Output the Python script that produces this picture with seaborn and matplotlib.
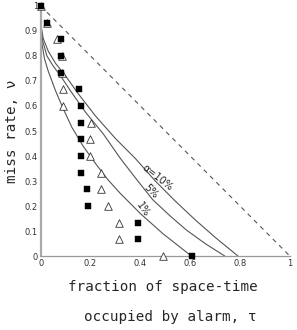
import matplotlib
matplotlib.use("Agg")
import matplotlib.pyplot as plt
import seaborn as sns
import pandas as pd

# ---- data ----
miss_rate = [1.0, 0.933, 0.867, 0.8, 0.733, 0.667, 0.6, 0.533, 0.467, 0.4,
             0.333, 0.267, 0.2, 0.133, 0.067, 0.0]
square_tau = [0.0, 0.027, 0.08, 0.08, 0.08, 0.152, 0.16, 0.16, 0.163, 0.163,
              0.163, 0.187, 0.19, 0.39, 0.39, 0.608]
triangle_tau = [0.0, 0.027, 0.067, 0.085, 0.085, 0.088, 0.09, 0.2, 0.198, 0.198,
                0.243, 0.243, 0.272, 0.314, 0.314, 0.49]

curve10_tau = [0.0, 0.01, 0.03, 0.06, 0.10, 0.15, 0.22, 0.30, 0.38, 0.46, 0.54, 0.62, 0.70, 0.792]
curve10_nu = [0.93, 0.87, 0.82, 0.77, 0.72, 0.65, 0.56, 0.47, 0.39, 0.30, 0.22, 0.145, 0.075, 0.0]
curve5_tau = [0.0, 0.008, 0.025, 0.05, 0.08, 0.12, 0.18, 0.25, 0.32, 0.39, 0.45, 0.52, 0.585, 0.66, 0.739]
curve5_nu = [0.93, 0.86, 0.80, 0.76, 0.72, 0.66, 0.575, 0.49, 0.39, 0.30, 0.225, 0.16, 0.104, 0.05, 0.0]
curve1_tau = [0.0, 0.005, 0.015, 0.03, 0.06, 0.09, 0.125, 0.17, 0.22, 0.27, 0.32, 0.40, 0.49, 0.605]
curve1_nu = [0.93, 0.85, 0.79, 0.74, 0.66, 0.59, 0.515, 0.44, 0.37, 0.305, 0.25, 0.17, 0.09, 0.0]

random_tau = [0.0, 1.0]
random_nu = [1.0, 0.0]

curve_labels = ["α=10%", "5%", "1%"]
x_ticks = [0, 0.2, 0.4, 0.6, 0.8, 1]
x_ticklabels = ["0", "0.2", "0.4", "0.6", "0.8", "1"]
y_ticks = [0, 0.1, 0.2, 0.3, 0.4, 0.5, 0.6, 0.7, 0.8, 0.9, 1]
y_ticklabels = ["0", "0.1", "0.2", "0.3", "0.4", "0.5", "0.6", "0.7", "0.8", "0.9", "1"]

sns.set_style("white")
plt.rcParams["font.family"] = ["DejaVu Sans"]

fig = plt.figure(figsize=(2.97, 3.30), dpi=100)
ax = fig.add_axes([0.137, 0.224, 0.839, 0.758])

df_rand = pd.DataFrame({"tau": random_tau, "nu": random_nu})
sns.lineplot(data=df_rand, x="tau", y="nu", ax=ax, color="#555555", lw=0.8,
             linestyle=(0, (4, 4)), sort=False)

for tx, ny in [(curve10_tau, curve10_nu), (curve5_tau, curve5_nu), (curve1_tau, curve1_nu)]:
    d = pd.DataFrame({"tau": tx, "nu": ny})
    sns.lineplot(data=d, x="tau", y="nu", ax=ax, color="#555555", lw=0.8, sort=False)

df_tri = pd.DataFrame({"tau": triangle_tau, "nu": miss_rate})
sns.scatterplot(data=df_tri, x="tau", y="nu", ax=ax, marker="^", s=30,
                facecolor="white", edgecolor="#333333", linewidth=0.6, clip_on=False, zorder=5)
df_sq = pd.DataFrame({"tau": square_tau, "nu": miss_rate})
sns.scatterplot(data=df_sq, x="tau", y="nu", ax=ax, marker="s", s=20,
                color="black", edgecolor="black", linewidth=0.3, clip_on=False, zorder=6)

ax.text(0.468, 0.312, curve_labels[0], rotation=-38, fontsize=7, ha="center", va="center", color="#222222")
ax.text(0.442, 0.257, curve_labels[1], rotation=-45, fontsize=7, ha="center", va="center", color="#222222")
ax.text(0.41, 0.188, curve_labels[2], rotation=-55, fontsize=7, ha="center", va="center", color="#222222")

ax.set_xlim(0, 1)
ax.set_ylim(0, 1)
ax.set_xticks(x_ticks)
ax.set_xticklabels(x_ticklabels, fontsize=6, color="#333333")
ax.set_yticks(y_ticks)
ax.set_yticklabels(y_ticklabels, fontsize=6, color="#333333")
ax.tick_params(direction="in", length=2.5, width=0.6, color="#888888", pad=2)
for s in ["top", "right"]:
    ax.spines[s].set_visible(False)
ax.spines["left"].set_color("#aaaaaa")
ax.spines["left"].set_linewidth(1.6)
ax.spines["bottom"].set_color("#999999")
ax.spines["bottom"].set_linewidth(0.9)

ax.set_xlabel("")
ax.set_ylabel("miss rate, ν", family="DejaVu Sans Mono", fontsize=10.3, labelpad=4)
fig.text(0.549, 1 - 287 / 330, "fraction of space-time", family="DejaVu Sans Mono",
         fontsize=10.3, ha="center", va="center")
fig.text(0.572, 1 - 317 / 330, "occupied by alarm, τ", family="DejaVu Sans Mono",
         fontsize=10.3, ha="center", va="center")

fig.savefig("out.png", dpi=100)
